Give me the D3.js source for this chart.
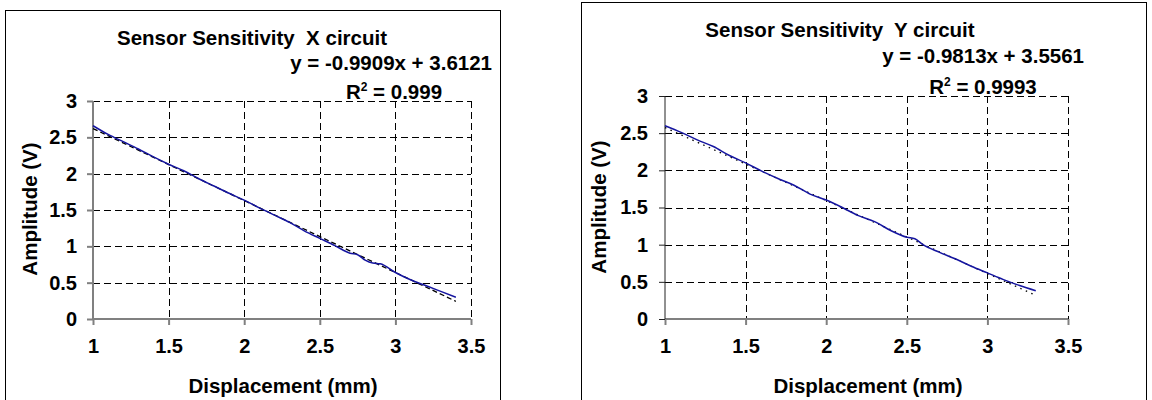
<!DOCTYPE html>
<html>
<head>
<meta charset="utf-8">
<script src="https://cdn.jsdelivr.net/npm/d3@7"></script>
<style>
  body { margin: 0; background: #fff; }
  text { font-family: "Liberation Sans", Arial, sans-serif; font-weight: bold; fill: #000; white-space: pre; }
</style>
</head>
<body>
<svg id="chart" width="1152" height="400"></svg>
<script>
// tick labels
var xTicks = [1, 1.5, 2, 2.5, 3, 3.5];
var yTicks = [0, 0.5, 1, 1.5, 2, 2.5, 3];

// X circuit: measured amplitude vs displacement
var xDisp = [1.0, 1.1, 1.2, 1.3, 1.4, 1.5, 1.6, 1.7, 1.8, 1.9, 2.0, 2.1, 2.2, 2.3, 2.4, 2.5, 2.6, 2.7, 2.75, 2.8, 2.85, 2.9, 3.0, 3.1, 3.2, 3.3, 3.4];
var xAmp  = [2.66, 2.54, 2.44, 2.34, 2.23, 2.13, 2.04, 1.93, 1.83, 1.73, 1.635, 1.53, 1.43, 1.33, 1.21, 1.11, 1.01, 0.905, 0.885, 0.81, 0.77, 0.76, 0.64, 0.54, 0.46, 0.38, 0.30];
var xTrend = [[1, 2.621], [3.4, 0.243]];

// Y circuit
var yDisp = [1.0, 1.1, 1.2, 1.3, 1.4, 1.5, 1.6, 1.7, 1.8, 1.9, 2.0, 2.1, 2.2, 2.3, 2.4, 2.5, 2.55, 2.6, 2.7, 2.8, 2.9, 3.0, 3.1, 3.2, 3.3];
var yAmp  = [2.60, 2.51, 2.41, 2.32, 2.20, 2.10, 1.99, 1.89, 1.80, 1.68, 1.60, 1.50, 1.39, 1.31, 1.19, 1.10, 1.08, 1.00, 0.90, 0.81, 0.71, 0.62, 0.53, 0.45, 0.38];
var yTrend = [[1, 2.575], [3.3, 0.318]];

var svg = d3.select("#chart");

var panels = [
    { title: "Sensor Sensitivity  X circuit", eq: "y = -0.9909x + 3.6121", r2: " = 0.999",
      xs: xDisp, ys: xAmp, trend: xTrend, trendDash: "5,3",
      box: [5.5, 10.5, 495, 400], plot: { left: 93, right: 471, top: 101, bottom: 319 },
      titleX: 252, titleY: 45, eqX: 492, eqY: 70, r2X: 394, r2Y: 99,
      tickRight: 77, yTitleX: 37, yTitleY: 209, xTitleX: 283, yAxisColor: "#808080", yAxisWidth: 2 },
    { title: "Sensor Sensitivity  Y circuit", eq: "y = -0.9813x + 3.5561", r2: " = 0.9993",
      xs: yDisp, ys: yAmp, trend: yTrend, trendDash: "1.5,4.5",
      box: [581.5, 2.5, 565, 410], plot: { left: 665, right: 1068, top: 96, bottom: 319 },
      titleX: 840, titleY: 37, eqX: 1084, eqY: 63, r2X: 983, r2Y: 94,
      tickRight: 648, yTitleX: 606, yTitleY: 207, xTitleX: 868, yAxisColor: "#222", yAxisWidth: 1 }
];

panels.forEach(drawPanel);

function drawPanel(p) {
    var g = svg.append("g");

    g.append("rect")
        .attr("x", p.box[0]).attr("y", p.box[1])
        .attr("width", p.box[2]).attr("height", p.box[3])
        .attr("fill", "none").attr("stroke", "#000").attr("stroke-width", 1);

    var x = d3.scaleLinear().domain([1, 3.5]).range([p.plot.left, p.plot.right]);
    var y = d3.scaleLinear().domain([0, 3]).range([p.plot.bottom, p.plot.top]);

    // dashed grid
    g.selectAll(".hgrid").data(yTicks.filter(function (d) { return d > 0; }))
        .enter().append("line")
        .attr("x1", x(1)).attr("x2", x(3.5))
        .attr("y1", function (d) { return Math.round(y(d)) + 0.5; })
        .attr("y2", function (d) { return Math.round(y(d)) + 0.5; })
        .attr("stroke", "#000").attr("stroke-dasharray", "7,4");
    g.selectAll(".vgrid").data(xTicks.filter(function (d) { return d > 1; }))
        .enter().append("line")
        .attr("y1", y(3)).attr("y2", y(0))
        .attr("x1", function (d) { return Math.round(x(d)) + 0.5; })
        .attr("x2", function (d) { return Math.round(x(d)) + 0.5; })
        .attr("stroke", "#000").attr("stroke-dasharray", "7,4");

    // axes
    var xAxis = g.append("g")
        .attr("transform", "translate(0," + y(0) + ")")
        .call(d3.axisBottom(x).tickValues(xTicks).tickSize(6).tickPadding(14)
            .tickFormat(d3.format("")));
    var yAxis = g.append("g")
        .attr("transform", "translate(" + x(1) + ",0)")
        .call(d3.axisLeft(y).tickValues(yTicks).tickSize(6).tickPadding(x(1) - p.tickRight - 6)
            .tickFormat(d3.format("")));

    xAxis.selectAll("path, line").attr("stroke", "#808080").attr("stroke-width", 2);
    yAxis.selectAll("path, line").attr("stroke", p.yAxisColor).attr("stroke-width", p.yAxisWidth);
    xAxis.select(".domain").attr("d", "M" + x(1) + ",0H" + x(3.5));
    yAxis.select(".domain").attr("d", "M0," + y(0) + "V" + y(3));
    g.selectAll(".tick text")
        .attr("font-family", "'Liberation Sans', Arial, sans-serif")
        .attr("font-weight", "bold").attr("font-size", 20).attr("fill", "#000");

    // trend line and data
    var line = d3.line()
        .x(function (d) { return x(d[0]); })
        .y(function (d) { return y(d[1]); });

    g.append("path").datum(p.trend)
        .attr("d", line).attr("fill", "none")
        .attr("stroke", "#000").attr("stroke-width", 1.3)
        .attr("stroke-dasharray", p.trendDash);

    g.append("path").datum(p.xs.map(function (d, i) { return [d, p.ys[i]]; }))
        .attr("d", line.curve(d3.curveMonotoneX)).attr("fill", "none")
        .attr("stroke", "#1515a0").attr("stroke-width", 1.5);

    // labels
    g.append("text").attr("x", p.titleX).attr("y", p.titleY)
        .attr("text-anchor", "middle").style("font-size", "20.5px").text(p.title);
    g.append("text").attr("x", p.eqX).attr("y", p.eqY)
        .attr("text-anchor", "end").style("font-size", "20.5px").text(p.eq);
    var r2 = g.append("text").attr("x", p.r2X).attr("y", p.r2Y)
        .attr("text-anchor", "middle").style("font-size", "20.5px");
    r2.append("tspan").text("R");
    r2.append("tspan").attr("dy", -8).style("font-size", "12px").text("2");
    r2.append("tspan").attr("dy", 8).text(p.r2);

    g.append("text").attr("x", p.xTitleX).attr("y", 393)
        .attr("text-anchor", "middle").style("font-size", "20.5px").text("Displacement (mm)");
    g.append("text")
        .attr("transform", "translate(" + p.yTitleX + "," + p.yTitleY + ") rotate(-90)")
        .attr("text-anchor", "middle").style("font-size", "20.5px").text("Amplitude (V)");
}
</script>
</body>
</html>
